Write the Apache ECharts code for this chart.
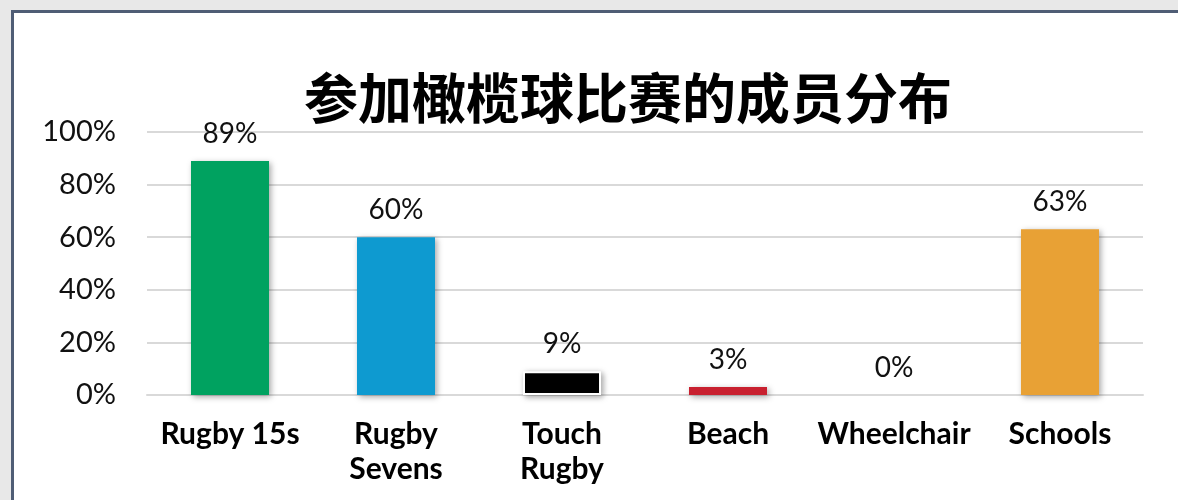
<!DOCTYPE html>
<html>
<head>
<meta charset="utf-8">
<script src="https://cdn.jsdelivr.net/npm/echarts@6/dist/echarts.min.js"></script>
<style>
html,body{margin:0;padding:0;background:#e8e8e8;width:1178px;height:500px;overflow:hidden;}
#frame{position:absolute;left:11px;top:10px;width:1300px;height:600px;background:#fff;border-top:3px solid #4f5d75;border-left:3px solid #4f5d75;}
#chart{position:absolute;left:0;top:0;width:1178px;height:500px;}
</style>
</head>
<body>
<div id="frame"></div>
<div id="chart"></div>
<script>
const titleText = '参加橄榄球比赛的成员分布';
const categories = ['Rugby 15s', 'Rugby\nSevens', 'Touch\nRugby', 'Beach', 'Wheelchair', 'Schools'];
const values = [89, 60, 9, 3, 0, 63];
const barColors = ['#00a260', '#0e9ad0', '#000000', '#c8202f', '#888888', '#e8a135'];
const yTicks = [0, 20, 40, 60, 80, 100];

const chart = echarts.init(document.getElementById('chart'), null, {renderer: 'canvas'});
chart.setOption({
  backgroundColor: 'transparent',
  animation: false,
  title: {
    text: titleText,
    left: 623,
    textAlign: 'center',
    top: 66,
    textStyle: {fontFamily: 'Noto Sans CJK SC', fontWeight: 'bold', fontSize: 54, color: '#000'}
  },
  grid: {left: 147, right: 35, top: 132, bottom: 105, containLabel: false},
  xAxis: {
    type: 'category',
    data: categories,
    axisLine: {show: true, lineStyle: {color: '#d9d9d9', width: 2}},
    axisTick: {show: false},
    axisLabel: {
      interval: 0,
      margin: 22,
      fontFamily: 'Lato',
      fontWeight: 'bold',
      fontSize: 30,
      lineHeight: 35,
      color: '#000'
    }
  },
  yAxis: {
    type: 'value',
    min: 0,
    max: 100,
    interval: 20,
    axisLine: {show: false},
    axisTick: {show: false},
    splitLine: {lineStyle: {color: '#d9d9d9', width: 2}},
    axisLabel: {
      margin: 31,
      fontFamily: 'Lato',
      fontSize: 29,
      color: '#111',
      formatter: v => v + '%'
    }
  },
  series: [{
    type: 'bar',
    barWidth: '47%',
    data: values.map((v, i) => ({
      value: v,
      itemStyle: {
        color: barColors[i],
        borderColor: i === 2 ? '#ffffff' : 'transparent',
        borderWidth: i === 2 ? 2 : 0,
        shadowBlur: 6,
        shadowOffsetX: 2,
        shadowOffsetY: 2,
        shadowColor: 'rgba(0,0,0,0.35)'
      }
    })),
    label: {
      show: true,
      position: 'top',
      distance: 13,
      fontFamily: 'Lato',
      fontSize: 28,
      color: '#111',
      formatter: p => p.value + '%'
    }
  }]
});
</script>
</body>
</html>
